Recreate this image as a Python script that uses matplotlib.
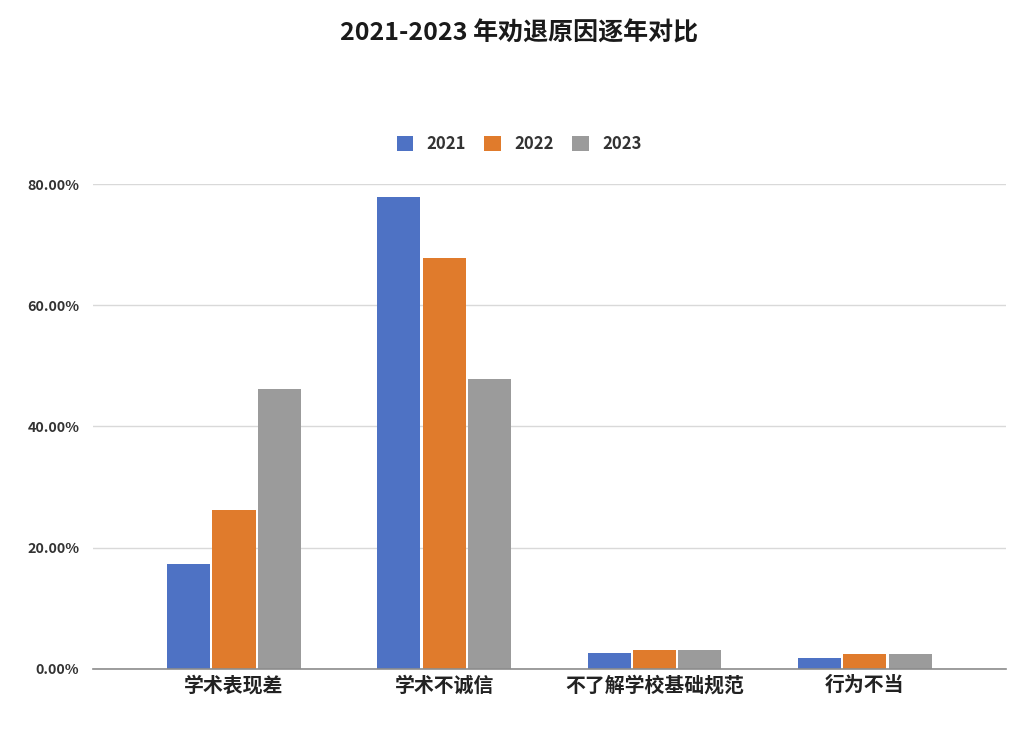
import matplotlib.pyplot as plt
import numpy as np

plt.rcParams['font.family'] = ['Noto Sans CJK SC', 'DejaVu Sans']

# data
categories = ['学术表现差', '学术不诚信', '不了解学校基础规范', '行为不当']
years = ['2021', '2022', '2023']
v2021 = [17.3, 77.9, 2.6, 1.7]
v2022 = [26.2, 67.8, 3.1, 2.4]
v2023 = [46.2, 47.8, 3.1, 2.4]
colors = ['#4E72C4', '#E07B2C', '#9B9B9B']
yticks = [0, 20, 40, 60, 80]

fig = plt.figure(figsize=(10.24, 7.39), dpi=100)
ax = fig.add_axes([0.091, 0.095, 0.891, 0.656])

x = np.arange(len(categories))
width = 0.205
step = 0.216
for i, (vals, yr) in enumerate(zip([v2021, v2022, v2023], years)):
    ax.bar(x + (i - 1) * step, vals, width, color=colors[i], label=yr, zorder=3)

ax.set_xlim(-0.67, len(categories) - 1 + 0.67)
ax.set_ylim(0, 80)
ax.set_yticks(yticks)
ax.set_yticklabels([f'{t:.2f}%' for t in yticks], fontsize=10.3, fontweight='bold', color='#333333')
ax.set_xticks(x)
ax.set_xticklabels(categories, fontsize=14.3, fontweight='bold', color='#222222')
ax.tick_params(axis='both', length=0)
ax.tick_params(axis='y', pad=10)
ax.tick_params(axis='x', pad=4)

ax.grid(axis='y', color='#d9d9d9', linewidth=1, zorder=0)
for s in ['top', 'right', 'left']:
    ax.spines[s].set_visible(False)
ax.spines['bottom'].set_color('#8c8c8c')
ax.spines['bottom'].set_linewidth(1.2)
ax.spines['bottom'].set_zorder(4)

fig.text(0.507, 0.955, '2021-2023 年劝退原因逐年对比', ha='center', va='center',
         fontsize=18, fontweight='bold', color='#1a1a1a')

leg = fig.legend(loc='center', bbox_to_anchor=(0.507, 0.805), ncol=3, frameon=False,
                 handlelength=1.0, handleheight=1.0, columnspacing=1.1, handletextpad=0.8,
                 prop={'size': 12, 'weight': 'bold'})
for t in leg.get_texts():
    t.set_color('#333333')

fig.savefig('out.png', dpi=100, facecolor='white')
